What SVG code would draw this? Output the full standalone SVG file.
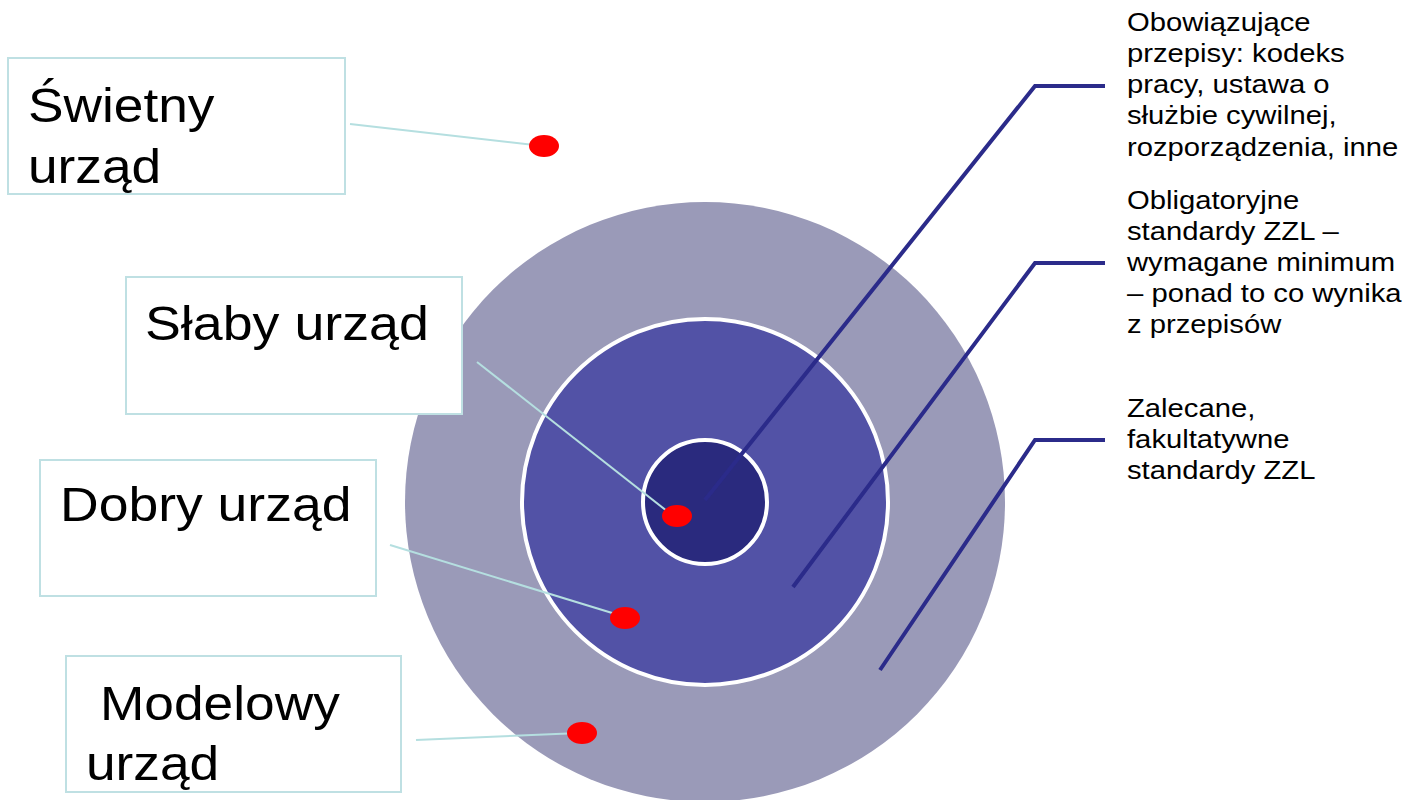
<svg xmlns="http://www.w3.org/2000/svg" width="1404" height="800" viewBox="0 0 1404 800">
<style>
.box{fill:#fff;stroke:#bfe0e3;stroke-width:2}
.big{font-family:"Liberation Sans",Arial,sans-serif;font-size:48px;fill:#000}
.lbl{font-family:"Liberation Sans",Arial,sans-serif;font-size:25px;fill:#000}
.lead{fill:none;stroke:#2b2b8a;stroke-width:4}
.thin{fill:none;stroke:#b5dfe0;stroke-width:2}
.dot{fill:#ff0000}
</style>
<rect width="1404" height="800" fill="#fff"/>
<g id="rings">
<circle cx="705" cy="502" r="300" fill="#9a9ab8"/>
<circle cx="705" cy="502" r="183" fill="#5252a6" stroke="#fff" stroke-width="4"/>
<circle cx="705" cy="502" r="62" fill="#2a2a7e" stroke="#fff" stroke-width="4"/>
</g>
<g id="box-swietny">
<rect class="box" x="8" y="58" width="337" height="136"/>
<g transform="translate(28 0) scale(1.11 1)">
<text class="big" x="0" y="122">Świetny</text>
<text class="big" x="0" y="183">urząd</text>
</g>
</g>
<g id="box-slaby">
<rect class="box" x="126" y="277" width="336" height="137"/>
<g transform="translate(145 0) scale(1.12 1)">
<text class="big" x="0" y="340">Słaby urząd</text>
</g>
</g>
<g id="box-dobry">
<rect class="box" x="40" y="460" width="336" height="136"/>
<g transform="translate(60 0) scale(1.115 1)">
<text class="big" x="0" y="521">Dobry urząd</text>
</g>
</g>
<g id="box-modelowy">
<rect class="box" x="66" y="656" width="335" height="136"/>
<g transform="translate(100 0) scale(1.11 1)">
<text class="big" x="0" y="720">Modelowy</text>
</g>
<g transform="translate(86 0) scale(1.11 1)">
<text class="big" x="0" y="780">urząd</text>
</g>
</g>
<g id="connectors">
<polyline class="lead" points="705,500 1035,86 1105,86"/>
<polyline class="lead" points="793,587 1035,263 1105,263"/>
<polyline class="lead" points="880,670 1035,440 1105,440"/>
<line class="thin" x1="350" y1="124" x2="543" y2="146"/>
<line class="thin" x1="477" y1="362" x2="672" y2="515"/>
<line class="thin" x1="390" y1="545" x2="622" y2="616"/>
<line class="thin" x1="416" y1="740" x2="580" y2="733"/>
</g>
<g id="dots">
<ellipse class="dot" cx="544" cy="146" rx="15" ry="11"/>
<ellipse class="dot" cx="677" cy="516" rx="15" ry="11"/>
<ellipse class="dot" cx="625" cy="618" rx="15" ry="11"/>
<ellipse class="dot" cx="582" cy="733" rx="15" ry="11"/>
</g>
<g id="label-przepisy" transform="translate(1127 0) scale(1.17 1)">
<text class="lbl" x="0" y="31">Obowiązujące</text>
<text class="lbl" x="0" y="62">przepisy: kodeks</text>
<text class="lbl" x="0" y="93">pracy, ustawa o</text>
<text class="lbl" x="0" y="124">służbie cywilnej,</text>
<text class="lbl" x="0" y="156">rozporządzenia, inne</text>
</g>
<g id="label-obligatoryjne" transform="translate(1127 0) scale(1.17 1)">
<text class="lbl" x="0" y="209">Obligatoryjne</text>
<text class="lbl" x="0" y="240">standardy ZZL –</text>
<text class="lbl" x="0" y="271">wymagane minimum</text>
<text class="lbl" x="0" y="302">– ponad to co wynika</text>
<text class="lbl" x="0" y="333">z przepisów</text>
</g>
<g id="label-zalecane" transform="translate(1127 0) scale(1.17 1)">
<text class="lbl" x="0" y="417">Zalecane,</text>
<text class="lbl" x="0" y="448">fakultatywne</text>
<text class="lbl" x="0" y="479">standardy ZZL</text>
</g>
</svg>
